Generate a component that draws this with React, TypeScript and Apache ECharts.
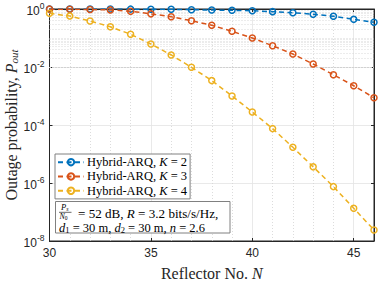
import React, { useEffect, useRef } from "react";
import * as echarts from "echarts";

const N = [30, 31, 32, 33, 34, 35, 36, 37, 38, 39, 40, 41, 42, 43, 44, 45, 46];
const K2 = [0.999, 0.998, 0.997, 0.995, 0.99, 0.985, 0.975, 0.945, 0.92, 0.9, 0.87, 0.81, 0.74, 0.66, 0.56, 0.44, 0.35];
const K3 = [0.99, 0.985, 0.96, 0.93, 0.84, 0.68, 0.54, 0.395, 0.274, 0.17, 0.1, 0.054, 0.028, 0.0127, 0.0054, 0.00226, 0.00087];
const K4 = [0.71, 0.57, 0.385, 0.245, 0.134, 0.062, 0.026, 0.0098, 0.0034, 0.001, 0.00028, 7.5e-5, 1.7e-5, 3.6e-6, 7.5e-7, 1.35e-7, 2.4e-8];
const seriesNames = ["Hybrid-ARQ, K = 2", "Hybrid-ARQ, K = 3", "Hybrid-ARQ, K = 4"];
const colors = ["#0072BD", "#D95319", "#EDB120"];

const SERIF = "'Liberation Serif', 'DejaVu Serif', serif";
const SANS = "'Liberation Sans', Arial, sans-serif";
const AX = "#262626";

const tok = (size: number, italic = false, extra: any = {}) => ({
  fontFamily: SERIF,
  fontSize: size,
  fontStyle: italic ? "italic" : "normal",
  fill: "#000",
  color: "#000",
  ...extra,
});

export default function App() {
  const ref = useRef<HTMLDivElement>(null);
  useEffect(() => {
    const chart = echarts.init(ref.current!, null, { renderer: "svg" });
    const minor: number[] = [];
    for (let e = -8; e < 0; e++) {
      for (let k = 1; k <= 9; k++) {
        const v = k * Math.pow(10, e);
        if (k === 1 && e % 2 === 0) continue;
        minor.push(v);
      }
    }
    const dataSets = [K2, K3, K4];
    const series: any[] = dataSets.map((d, i) => ({
      name: seriesNames[i],
      type: "line",
      data: N.map((n, j) => [n, d[j]]),
      symbol: "circle",
      symbolSize: 6,
      color: colors[i],
      lineStyle: { color: colors[i], width: 1.5, type: [5, 3.5] },
      itemStyle: { color: "rgba(255,255,255,0)", borderColor: colors[i], borderWidth: 1.5 },
      z: 5 + i,
    }));
    series.push({
      type: "line",
      data: [],
      silent: true,
      markLine: {
        silent: true,
        symbol: "none",
        label: { show: false },
        lineStyle: { color: "#cfcfcf", type: [1, 2], width: 0.8 },
        data: minor.map((v) => ({ yAxis: v })),
      },
    });
    const T = 12.5;
    const T1 = 13.1;
    const textEl = (t: string, x: number, y: number, rich: any) => ({
      type: "text",
      x,
      y,
      z: 11,
      style: { text: t, fontFamily: SERIF, fontSize: T, fill: "#000", verticalAlign: "middle", rich },
    });
    chart.setOption({
      animation: false,
      grid: {
        left: 49.5, right: 11, top: 9, bottom: 42,
        outerBoundsMode: "none", containLabel: false,
        show: true, borderColor: AX, borderWidth: 1, backgroundColor: "#fff",
      },
      legend: {
        orient: "vertical",
        left: 55,
        top: 154,
        width: 140,
        backgroundColor: "#fff",
        borderColor: "#808080",
        borderWidth: 1,
        borderRadius: 0,
        padding: [1, 3, 1, 2],
        itemWidth: 26,
        itemHeight: 8,
        itemGap: 0,
        data: seriesNames,
        formatter: (name: string) => `{r|Hybrid-ARQ, }{i|K}{r| = ${name.slice(-1)}}`,
        textStyle: {
          fontFamily: SERIF,
          fontSize: T,
          color: "#000",
          lineHeight: 14.3,
          padding: [0, 0, 0, -2],
          rich: { r: tok(T, false, { lineHeight: 14.3 }), i: tok(T, true, { lineHeight: 14.3 }) },
        },
      },
      xAxis: [
        {
          type: "value",
          min: 30,
          max: 46,
          interval: 5,
          name: "{r|Reflector No. }{i|N}",
          nameLocation: "middle",
          nameGap: 24,
          nameMoveOverlap: false,
          nameTextStyle: {
            fontFamily: SERIF,
            fontSize: 16,
            color: AX,
            rich: { r: tok(16, false, { color: AX, fill: AX }), i: tok(16, true, { color: AX, fill: AX }) },
          },
          axisLine: { show: true, lineStyle: { color: AX } },
          axisTick: { inside: true, length: 3, lineStyle: { color: AX } },
          axisLabel: { fontFamily: SANS, fontSize: 12, color: AX, margin: 6, showMaxLabel: false },
          splitLine: { show: true, lineStyle: { color: "#e3e3e3", width: 0.8 } },
          minorTick: { show: false, splitNumber: 5 },
          minorSplitLine: { show: true, lineStyle: { color: "#d3d3d3", type: [1, 2], width: 0.8 } },
        },
        {
          type: "value",
          position: "top",
          min: 30,
          max: 46,
          interval: 5,
          axisLine: { show: true, lineStyle: { color: AX } },
          axisTick: { inside: true, length: 3, lineStyle: { color: AX } },
          axisLabel: { show: false },
          splitLine: { show: false },
        },
      ],
      yAxis: [
        {
          type: "log",
          logBase: 10,
          min: 1e-8,
          max: 1,
          interval: 2,
          name: "{r|Outage probability, }{i|P}{s|out}",
          nameLocation: "middle",
          nameGap: 30,
          nameMoveOverlap: false,
          nameTextStyle: {
            fontFamily: SERIF,
            fontSize: 16,
            color: AX,
            rich: {
              r: tok(16, false, { color: AX, fill: AX }),
              i: tok(16, true, { color: AX, fill: AX }),
              s: tok(11, true, { color: AX, fill: AX, padding: [6, 0, 0, 0] }),
            },
          },
          axisLine: { show: true, lineStyle: { color: AX } },
          axisTick: { inside: true, length: 3, lineStyle: { color: AX } },
          axisLabel: {
            margin: 5,
            formatter: (v: number) => `{b|10}{e|${Math.round(Math.log10(v))}}`,
            rich: {
              b: { fontFamily: SANS, fontSize: 12, color: AX, verticalAlign: "bottom", lineHeight: 16 },
              e: { fontFamily: SANS, fontSize: 8.5, color: AX, verticalAlign: "top", lineHeight: 16 },
            },
          },
          splitLine: { show: true, lineStyle: { color: "#e3e3e3", width: 0.8 } },
        },
        {
          type: "log",
          logBase: 10,
          min: 1e-8,
          max: 1,
          interval: 2,
          position: "right",
          axisLine: { show: true, lineStyle: { color: AX } },
          axisTick: { inside: true, length: 3, lineStyle: { color: AX } },
          axisLabel: { show: false },
          splitLine: { show: false },
        },
      ],
      series,
      graphic: [
        {
          type: "rect",
          shape: { x: 55.5, y: 201.5, width: 174.5, height: 31.5 },
          style: { fill: "#fff", stroke: "#808080", lineWidth: 1 },
          z: 10,
        },
        textEl("{i|P}{s|s}", 61, 207.3, {
          i: tok(8.5, true, { lineHeight: 8 }),
          s: tok(6, true, { padding: [3, 0, 0, 0], lineHeight: 8 }),
        }),
        {
          type: "line",
          z: 11,
          shape: { x1: 59, y1: 212.3, x2: 71.5, y2: 212.3 },
          style: { stroke: "#000", lineWidth: 0.6 },
        },
        textEl("{i|N}{s|0}", 59.5, 216.2, {
          i: tok(8, true, { lineHeight: 7 }),
          s: tok(5.5, false, { padding: [3, 0, 0, 0], lineHeight: 7 }),
        }),
        textEl("{r|= 52 dB, }{i|R}{r| = 3.2 bits/s/Hz,}", 78, 213.5, {
          r: tok(T1),
          i: tok(T1, true),
        }),
        textEl("{i|d}{s|1}{r| = 30 m, }{i|d}{s|2}{r| = 30 m, }{i|n}{r| = 2.6}", 59, 227.8, {
          r: tok(T, false, { lineHeight: 10 }),
          i: tok(T, true, { lineHeight: 10 }),
          s: tok(8.5, false, { padding: [5, 0, 0, 0], lineHeight: 10 }),
        }),
      ],
    });
    return () => chart.dispose();
  }, []);
  return (
    <div
      ref={ref}
      style={{ position: "fixed", left: 0, top: 0, width: 385, height: 283, background: "#fff" }}
    />
  );
}
